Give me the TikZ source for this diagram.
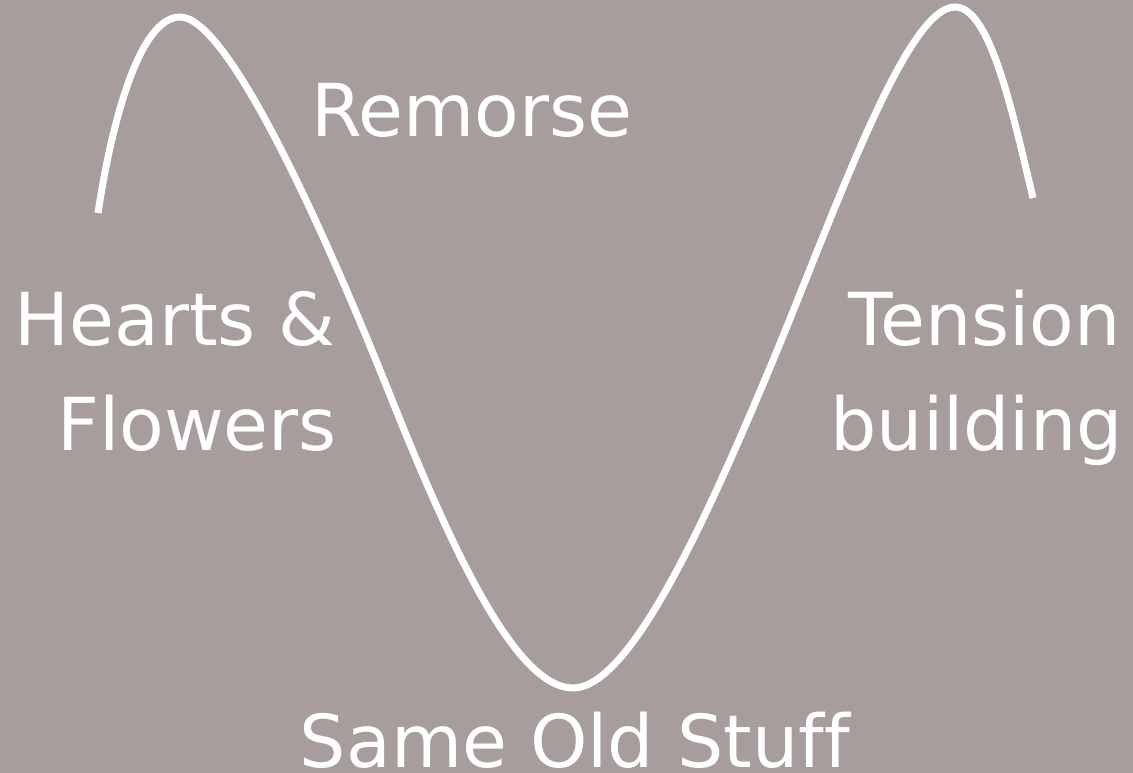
\documentclass[tikz,border=0pt]{standalone}
\usepackage{fontspec}
\setmainfont[Ligatures=NoCommon]{DejaVu Sans}
\definecolor{bg}{HTML}{A69D9C}
\begin{document}
\begin{tikzpicture}[x=1pt,y=-1pt,
  lbl/.style={text=white,font=\fontsize{73}{86}\selectfont,inner sep=0pt},
  wave/.style={draw=white,line width=7pt}]
\useasboundingbox[fill=bg] (0,0) rectangle (1133,773);
\coordinate (s) at (98,213);
\coordinate (p1) at (180,17);
\coordinate (i1) at (390,395);
\coordinate (t) at (573,688);
\coordinate (i2) at (769,370);
\coordinate (p2) at (955,7);
\coordinate (e) at (1033,198);
\draw[wave] (s) .. controls (112,120) and (140,17) .. (p1)
  .. controls (230,17) and (330,245) .. (i1)
  .. controls (450,545) and (515,688) .. (t)
  .. controls (630,688) and (706,520) .. (i2)
  .. controls (832,220) and (905,7) .. (p2)
  .. controls (990,7) and (1012,110) .. (e);
\node[lbl,anchor=base] (remorse) at (472,137) {Remorse};
\node[lbl,anchor=base east] (hearts) at (336,345) {Hearts \&};
\node[lbl,anchor=base east] (flowers) at (337,450) {Flowers};
\node[lbl,anchor=base east] (tension) at (1121,345) {Tension};
\node[lbl,anchor=base east] (building) at (1123,450) {building};
\node[lbl,anchor=base] (same) at (575,767) {Same Old Stuff};
\end{tikzpicture}
\end{document}
